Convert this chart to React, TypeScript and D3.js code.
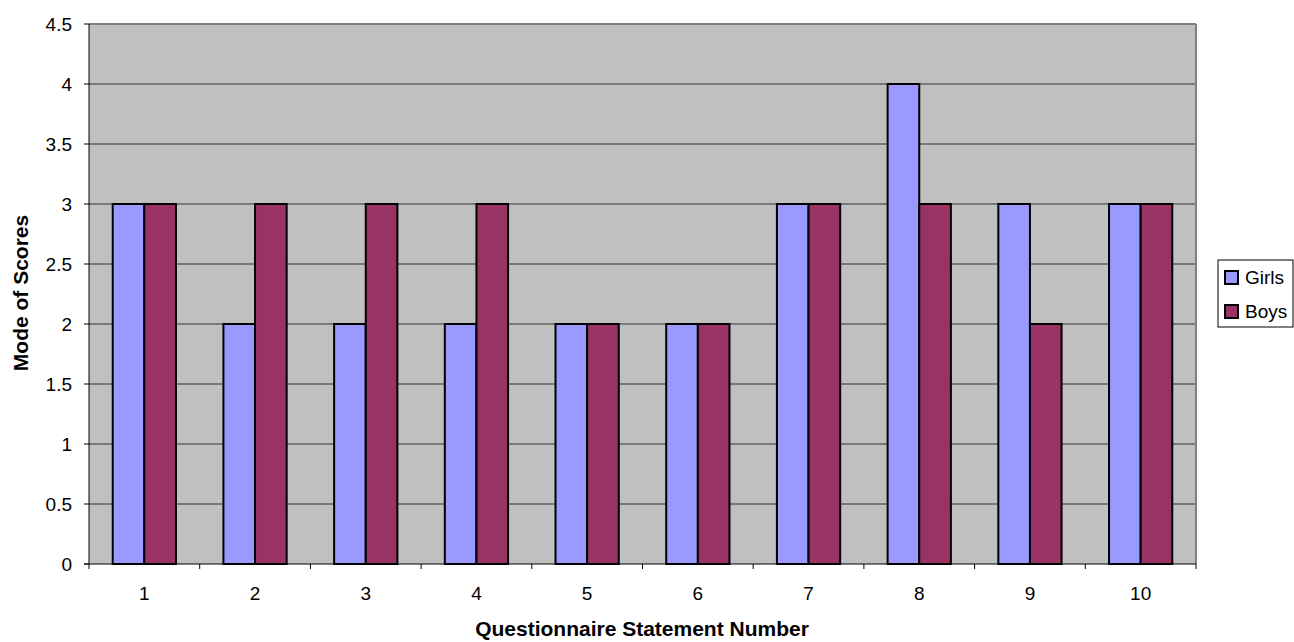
import React from "react";
import * as d3 from "d3";

const categories = ["1", "2", "3", "4", "5", "6", "7", "8", "9", "10"];
const girls = [3, 2, 2, 2, 2, 2, 3, 4, 3, 3];
const boys = [3, 3, 3, 3, 2, 2, 3, 3, 2, 3];
const seriesNames = ["Girls", "Boys"];
const seriesColors = ["#9999FF", "#993366"];
const yTicks = [0, 0.5, 1, 1.5, 2, 2.5, 3, 3.5, 4, 4.5];

export default function App() {
  const W = 1294, H = 642;
  const left = 89, right = 1196, top = 24, bottom = 564;
  const x = d3.scaleBand<string>().domain(categories).range([left, right]).paddingInner(0).paddingOuter(0);
  const y = d3.scaleLinear().domain([0, 4.5]).range([bottom, top]);
  const bw = x.bandwidth();
  const barW = bw / 3.5;
  const series = [girls, boys];
  const font = "'Liberation Sans', Arial, sans-serif";

  return (
    <svg width={W} height={H} style={{ position: "absolute", left: 0, top: 0, background: "#fff" }} fontFamily={font}>
      <rect x={left} y={top} width={right - left} height={bottom - top} fill="#C0C0C0" />
      {yTicks.filter(t => t > 0).map(t => (
        <line key={t} x1={left} x2={right} y1={y(t)} y2={y(t)} stroke="#333" strokeWidth={1} />
      ))}
      <line x1={left} x2={right} y1={top} y2={top} stroke="#808080" strokeWidth={2} />
      <line x1={right} x2={right} y1={top} y2={bottom} stroke="#808080" strokeWidth={2} />
      {categories.map((c, i) =>
        series.map((s, k) => {
          const xs = (x(c) as number) + (bw - 2 * barW) / 2 + barW * k;
          return (
            <rect key={c + k} x={xs} y={y(s[i])} width={barW} height={bottom - y(s[i])}
              fill={seriesColors[k]} stroke="#000" strokeWidth={2} />
          );
        })
      )}
      <line x1={left} x2={left} y1={top} y2={bottom + 5} stroke="#000" strokeWidth={1} />
      <line x1={left - 5} x2={right} y1={bottom} y2={bottom} stroke="#000" strokeWidth={1} />
      {yTicks.map(t => (
        <g key={t}>
          <line x1={left - 5} x2={left} y1={y(t)} y2={y(t)} stroke="#000" />
          <text x={left - 17} y={y(t) + 7} textAnchor="end" fontSize={19}>{t}</text>
        </g>
      ))}
      {categories.map(c => (
        <line key={"t" + c} x1={(x(c) as number) + bw} x2={(x(c) as number) + bw} y1={bottom} y2={bottom + 5} stroke="#000" />
      ))}
      {categories.map(c => (
        <text key={"l" + c} x={(x(c) as number) + bw / 2} y={600} textAnchor="middle" fontSize={19}>{c}</text>
      ))}
      <text x={642} y={636} textAnchor="middle" fontSize={21} fontWeight="bold">Questionnaire Statement Number</text>
      <text transform={`translate(28, 293) rotate(-90)`} textAnchor="middle" fontSize={21} fontWeight="bold">Mode of Scores</text>
      <rect x={1218} y={260} width={75} height={67} fill="#fff" stroke="#000" strokeWidth={1} />
      {seriesNames.map((n, k) => (
        <g key={n}>
          <rect x={1225} y={271 + k * 34} width={13} height={13} fill={seriesColors[k]} stroke="#000" strokeWidth={2} />
          <text x={1245} y={284 + k * 34} fontSize={19}>{n}</text>
        </g>
      ))}
    </svg>
  );
}
